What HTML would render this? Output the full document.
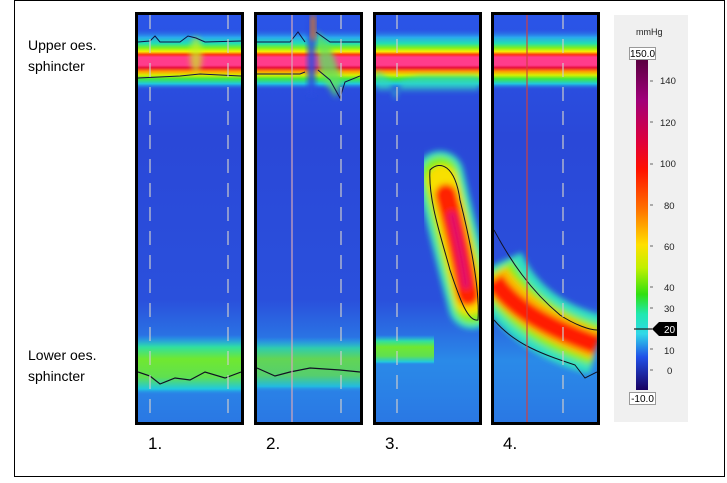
<!DOCTYPE html>
<html><head><meta charset="utf-8"><style>
html,body{margin:0;padding:0;background:#fff;}
body{width:727px;height:478px;overflow:hidden;font-family:"Liberation Sans",sans-serif;}
</style></head><body>
<svg width="727" height="478" viewBox="0 0 727 478" xmlns="http://www.w3.org/2000/svg" font-family="Liberation Sans, sans-serif">
<defs>
<linearGradient id="ues" x1="0" y1="0" x2="0" y2="1">
<stop offset="0" stop-color="#2a4de0" stop-opacity="0"/>
<stop offset="0.15" stop-color="#2aa8ee"/>
<stop offset="0.25" stop-color="#22e0b0"/>
<stop offset="0.32" stop-color="#7ef020"/>
<stop offset="0.38" stop-color="#f8f000"/>
<stop offset="0.43" stop-color="#ff3010"/>
<stop offset="0.47" stop-color="#ff3c8c"/>
<stop offset="0.6" stop-color="#ff3c8c"/>
<stop offset="0.64" stop-color="#e8103a"/>
<stop offset="0.7" stop-color="#ff9a00"/>
<stop offset="0.76" stop-color="#d8f000"/>
<stop offset="0.82" stop-color="#40e840"/>
<stop offset="0.9" stop-color="#20c8e0"/>
<stop offset="1" stop-color="#2a4de0" stop-opacity="0"/>
</linearGradient>
<linearGradient id="les" x1="0" y1="0" x2="0" y2="1">
<stop offset="0" stop-color="#20c0f0" stop-opacity="0"/>
<stop offset="0.2" stop-color="#30e0a0"/>
<stop offset="0.4" stop-color="#70e830"/>
<stop offset="0.7" stop-color="#60e050"/>
<stop offset="0.9" stop-color="#20c8e0"/>
<stop offset="1" stop-color="#2a80e8" stop-opacity="0"/>
</linearGradient>
<linearGradient id="bg" x1="0" y1="0" x2="0" y2="1">
<stop offset="0" stop-color="#2a55e8"/>
<stop offset="0.3" stop-color="#2a48d8"/>
<stop offset="0.7" stop-color="#2a50dc"/>
<stop offset="0.85" stop-color="#2a8ae8"/>
<stop offset="1" stop-color="#2a78e4"/>
</linearGradient>
<linearGradient id="cb" x1="0" y1="0" x2="0" y2="1">
<stop offset="0" stop-color="#5a0040"/>
<stop offset="0.12" stop-color="#a0007a"/>
<stop offset="0.25" stop-color="#e0003a"/>
<stop offset="0.33" stop-color="#ff1000"/>
<stop offset="0.45" stop-color="#ff7000"/>
<stop offset="0.56" stop-color="#ffe000"/>
<stop offset="0.63" stop-color="#c0f000"/>
<stop offset="0.71" stop-color="#30e010"/>
<stop offset="0.77" stop-color="#20e8b0"/>
<stop offset="0.83" stop-color="#30d8e8"/>
<stop offset="0.9" stop-color="#2050e8"/>
<stop offset="1" stop-color="#180060"/>
</linearGradient>
<filter id="bl" x="-50%" y="-50%" width="200%" height="200%"><feGaussianBlur stdDeviation="3"/></filter>
<clipPath id="c1"><rect x="138" y="15" width="103" height="407"/></clipPath>
<clipPath id="c2"><rect x="257" y="15" width="103" height="407"/></clipPath>
<clipPath id="c3"><rect x="376" y="15" width="103" height="407"/></clipPath>
<clipPath id="c4"><rect x="494" y="15" width="103" height="407"/></clipPath>
</defs>
<rect x="14.5" y="0.5" width="710" height="476" fill="none" stroke="#000"/>

<text x="28" y="50" font-size="14">Upper oes.</text>
<text x="28" y="71" font-size="14">sphincter</text>
<text x="28" y="360" font-size="14">Lower oes.</text>
<text x="28" y="381" font-size="14">sphincter</text>
<text x="148" y="449" font-size="17">1.</text>
<text x="266" y="449" font-size="17">2.</text>
<text x="385" y="449" font-size="17">3.</text>
<text x="503" y="449" font-size="17">4.</text>

<!-- Panel 1 -->
<g clip-path="url(#c1)">
<rect x="138" y="15" width="103" height="407" fill="url(#bg)"/>
<rect x="138" y="28" width="103" height="62" fill="url(#ues)"/>
<ellipse cx="196" cy="55" rx="6" ry="18" fill="#c8f020" opacity="0.7" filter="url(#bl)"/>
<path d="M138 42 L150 41 L155 36 L160 42 L180 42 L188 36 L196 38 L205 42 L241 41" fill="none" stroke="#114" stroke-width="1"/>
<path d="M138 78 L180 76 L200 74 L241 76" fill="none" stroke="#114" stroke-width="1"/>
<rect x="138" y="335" width="103" height="60" fill="url(#les)"/>
<path d="M138 372 L150 376 L160 384 L175 378 L190 380 L205 372 L225 378 L241 372" fill="none" stroke="#112" stroke-width="1.2"/>
<line x1="150" y1="15" x2="150" y2="422" stroke="#ccc" stroke-width="1.2" stroke-dasharray="14 10"/>
<line x1="228" y1="15" x2="228" y2="422" stroke="#ccc" stroke-width="1.2" stroke-dasharray="14 10"/>
</g>
<rect x="136.5" y="13.5" width="106" height="410" fill="none" stroke="#000" stroke-width="3"/>

<!-- Panel 2 -->
<g clip-path="url(#c2)">
<rect x="257" y="15" width="103" height="407" fill="url(#bg)"/>
<rect x="257" y="28" width="103" height="62" fill="url(#ues)"/>
<path d="M315 30 L330 45 L342 80 L336 98 L320 75 Z" fill="#60e060" opacity="0.8" filter="url(#bl)"/>
<rect x="308" y="15" width="7" height="80" fill="#2a4de0" filter="url(#bl)"/>
<rect x="311" y="15" width="4" height="25" fill="#ff8000" filter="url(#bl)"/>
<path d="M257 42 L290 42 L298 32 L305 42 M316 32 L330 42 L360 42" fill="none" stroke="#114" stroke-width="1"/>
<path d="M257 74 L300 74 L305 72 M318 70 L330 80 L340 98 L345 82 L360 76" fill="none" stroke="#114" stroke-width="1"/>
<rect x="257" y="337" width="103" height="55" fill="url(#les)" opacity="0.8"/>
<path d="M257 368 L275 376 L290 372 L310 368 L340 370 L360 372" fill="none" stroke="#112" stroke-width="1.2"/>
<line x1="292" y1="15" x2="292" y2="422" stroke="#d8a8b8" stroke-width="1.2"/>
<line x1="341" y1="15" x2="341" y2="422" stroke="#ccc" stroke-width="1.2" stroke-dasharray="14 10"/>
</g>
<rect x="255.5" y="13.5" width="106" height="410" fill="none" stroke="#000" stroke-width="3"/>

<!-- Panel 3 -->
<g clip-path="url(#c3)">
<rect x="376" y="15" width="103" height="407" fill="url(#bg)"/>
<rect x="376" y="28" width="103" height="62" fill="url(#ues)"/>
<path d="M376 70 L390 80 L395 100 L402 80 L420 76 L479 76 L479 90 L376 90 Z" fill="#30d8c0" opacity="0.7" filter="url(#bl)"/>
<g filter="url(#bl)">
<path d="M440 175 C448 210 460 260 472 305" stroke="#30e0c0" stroke-width="48" fill="none" stroke-linecap="round"/>
<path d="M440 175 C448 210 460 260 472 305" stroke="#80f020" stroke-width="38" fill="none" stroke-linecap="round"/>
<path d="M442 180 C450 210 460 260 470 300" stroke="#f8e000" stroke-width="30" fill="none" stroke-linecap="round"/>
<path d="M446 195 C454 225 462 260 468 295" stroke="#ff2000" stroke-width="22" fill="none" stroke-linecap="round"/>
<path d="M452 215 C458 240 462 260 466 285" stroke="#e0106a" stroke-width="8" fill="none" stroke-linecap="round"/>
</g>
<path d="M430 170 C440 160 455 165 460 200 C470 240 480 290 478 320 C468 322 460 300 450 270 C442 240 428 200 430 170 Z" fill="none" stroke="#112" stroke-width="1"/>
<rect x="376" y="335" width="58" height="30" fill="url(#les)"/>
<line x1="397" y1="15" x2="397" y2="422" stroke="#ccc" stroke-width="1.2" stroke-dasharray="14 10"/>
</g>
<rect x="374.5" y="13.5" width="106" height="410" fill="none" stroke="#000" stroke-width="3"/>

<!-- Panel 4 -->
<g clip-path="url(#c4)">
<rect x="494" y="15" width="103" height="407" fill="url(#bg)"/>
<rect x="494" y="28" width="103" height="62" fill="url(#ues)"/>
<g filter="url(#bl)">
<path d="M494 265 C510 300 540 330 597 345" stroke="#30e0c0" stroke-width="60" fill="none"/>
<path d="M494 270 C510 300 540 328 597 345" stroke="#80f020" stroke-width="42" fill="none"/>
<path d="M494 275 C510 300 540 325 597 345" stroke="#f8c000" stroke-width="30" fill="none"/>
<path d="M494 280 C510 305 540 325 597 345" stroke="#ff1a00" stroke-width="20" fill="none"/>
</g>
<path d="M494 230 C510 260 530 290 560 315 C575 325 590 330 597 330" fill="none" stroke="#112" stroke-width="1"/>
<path d="M494 320 C515 345 545 355 575 365 L585 378 L597 372" fill="none" stroke="#112" stroke-width="1"/>
<line x1="527" y1="15" x2="527" y2="422" stroke="#d04040" stroke-width="1.2"/>
<line x1="563" y1="15" x2="563" y2="422" stroke="#ccc" stroke-width="1.2" stroke-dasharray="14 10"/>
</g>
<rect x="492.5" y="13.5" width="106" height="410" fill="none" stroke="#000" stroke-width="3"/>

<!-- Colorbar -->
<rect x="614" y="15" width="74" height="407" fill="#f0f0f0"/>
<text x="636" y="35" font-size="9" fill="#222">mmHg</text>
<rect x="629.5" y="47.5" width="26" height="12" fill="#fff" stroke="#999"/>
<text x="642.5" y="57" font-size="10" text-anchor="middle">150.0</text>
<rect x="636" y="60" width="12" height="330" fill="url(#cb)"/>
<rect x="629.5" y="392.5" width="26" height="12" fill="#fff" stroke="#999"/>
<text x="642.5" y="402" font-size="10" text-anchor="middle">-10.0</text>
<g font-size="9.5" fill="#222">
<text x="660" y="84">140</text>
<text x="660" y="126">120</text>
<text x="660" y="167">100</text>
<text x="664" y="209">80</text>
<text x="664" y="250">60</text>
<text x="664" y="291">40</text>
<text x="664" y="312">30</text>
<text x="664" y="354">10</text>
<text x="667" y="374">0</text>
</g>
<g stroke="#666" stroke-width="1">
<line x1="650" y1="81" x2="653" y2="81"/><line x1="650" y1="122" x2="653" y2="122"/>
<line x1="650" y1="164" x2="653" y2="164"/><line x1="650" y1="205" x2="653" y2="205"/>
<line x1="650" y1="246" x2="653" y2="246"/><line x1="650" y1="287" x2="653" y2="287"/>
<line x1="650" y1="308" x2="653" y2="308"/><line x1="650" y1="349" x2="653" y2="349"/>
<line x1="650" y1="370" x2="653" y2="370"/>
</g>
<line x1="634" y1="329" x2="652" y2="329" stroke="#222" stroke-width="1.2"/>
<path d="M652 329 L659 322 L677 322 L677 336 L659 336 Z" fill="#000"/>
<text x="664" y="333" font-size="10" fill="#fff">20</text>
</svg>
</body></html>
